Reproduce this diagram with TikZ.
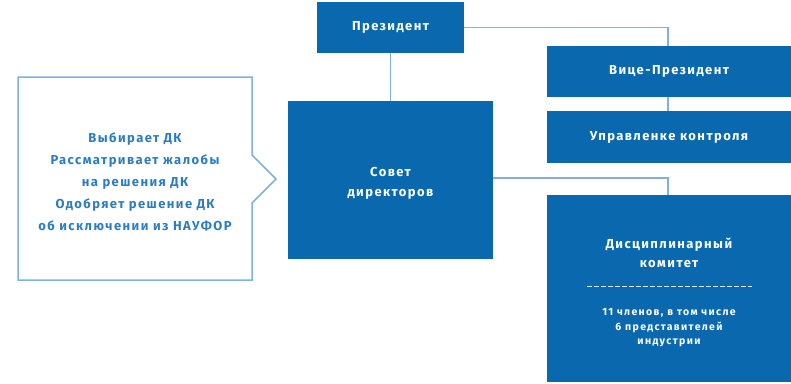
\documentclass[tikz,border=0pt]{standalone}
\usepackage{fontspec}
\setmainfont{Fira Sans}[LetterSpace=11]
\newfontfamily\smallfam{Fira Sans}[LetterSpace=13]
\definecolor{boxblue}{HTML}{0A69AE}
\definecolor{linkblue}{HTML}{7FB2DD}
\definecolor{txtblue}{HTML}{2C7CC0}
\begin{document}
\begin{tikzpicture}[x=1pt,y=-1pt,
  bluebox/.style={fill=boxblue,draw=none,text=white,font=\bfseries\fontsize{13}{20}\selectfont,align=center,inner sep=0pt},
  link/.style={draw=linkblue,line width=1.2pt}]
\useasboundingbox (0,0) rectangle (791,383);
\node[bluebox,minimum width=147pt,minimum height=51pt] (pres) at (390.5,27.5) {Президент};
\node[bluebox,minimum width=205pt,minimum height=158pt] (sovet) at (390.5,180) {};
\node[text=white,font=\bfseries\fontsize{13}{20}\selectfont,align=center] (sovett) at (390.5,183) {Совет\\директоров};
\node[bluebox,minimum width=244pt,minimum height=51pt] (vice) at (669,71.5) {Вице-Президент};
\node[bluebox,minimum width=244pt,minimum height=52pt] (upr) at (669,137) {Управленке контроля};
\node[bluebox,minimum width=244pt,minimum height=187pt] (dk) at (669,288.5) {};
\node[text=white,font=\bfseries\fontsize{13}{19}\selectfont,align=center] (dkt) at (669,252.5) {Дисциплинарный\\комитет};
\node[text=white,font=\smallfam\bfseries\fontsize{10.5}{14.5}\selectfont,align=center] (dks) at (669,328) {11 членов, в том числе\\6 представителей\\индустрии};
\coordinate (d1) at (587,286);
\coordinate (d2) at (752,286);
\draw[white!85!boxblue,line width=0.7pt,dash pattern=on 5pt off 2pt] (d1) -- (d2);
\coordinate (pv) at (668,27.5);
\coordinate (sd) at (668,178);
\draw[link] (pres.east) -- (pv) -- (vice.north -| pv);
\draw[link] (pres.south) -- (sovet.north);
\draw[link] (vice.south -| pv) -- (upr.north -| pv);
\draw[link] (sovet.east |- sd) -- (sd) -- (dk.north -| sd);
\draw[draw=linkblue,line width=1.5pt] (252,77) -- (252,155) -- (276,179) -- (252,203) -- (252,280) -- (18,280) -- (18,77) -- cycle;
\node[text=txtblue,font=\bfseries\fontsize{13}{22}\selectfont,align=center] (call) at (135,181.5) {Выбирает ДК\\Рассматривает жалобы\\на решения ДК\\Одобряет решение ДК\\об исключении из НАУФОР};
\end{tikzpicture}
\end{document}
